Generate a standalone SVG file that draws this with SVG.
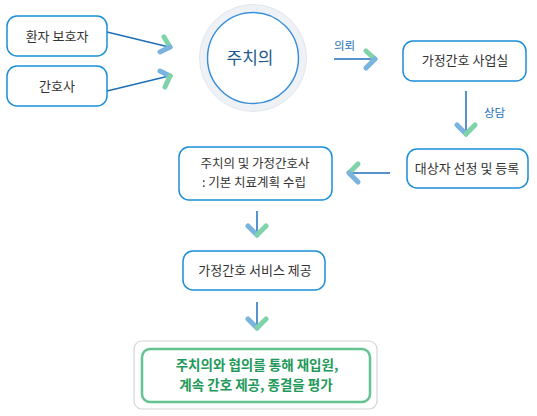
<svg xmlns="http://www.w3.org/2000/svg" width="537" height="416" viewBox="0 0 537 416">
<style>
.box{fill:#fff;stroke:#1a8fd8;stroke-width:1.5}
.t{font-family:"Noto Sans CJK KR","Noto Sans",sans-serif;font-size:13px;fill:#333;text-anchor:middle}
.t2{font-family:"Noto Sans CJK KR","Noto Sans",sans-serif;font-size:12.5px;fill:#333;text-anchor:middle}
.lbl{font-family:"Noto Sans CJK KR","Noto Sans",sans-serif;font-size:11.5px;fill:#1d6fb8}
.ln{stroke:#1d6fb8;stroke-width:1.5;fill:none}
.g{stroke:#7fd3a9;stroke-width:5;stroke-linecap:round;fill:none}
.b{stroke:#7ab3dd;stroke-width:5;stroke-linecap:round;fill:none}
.gt{font-family:"Noto Sans CJK KR","Noto Sans",sans-serif;font-size:13.5px;font-weight:bold;fill:#22995a;text-anchor:middle}
</style>
<rect width="537" height="416" fill="#fff"/>
<g id="connectors">
  <line class="ln" x1="107" y1="32" x2="169" y2="47"/>
  <line class="g" x1="164" y1="37" x2="170" y2="47"/>
  <line class="b" x1="170" y1="47" x2="160" y2="52"/>
  <line class="ln" x1="107" y1="91" x2="169" y2="76"/>
  <line class="b" x1="160" y1="71" x2="170" y2="76"/>
  <line class="g" x1="170" y1="76" x2="165" y2="87"/>
  <line class="ln" x1="334" y1="59" x2="373" y2="59"/>
  <line class="g" x1="366" y1="51" x2="375" y2="59"/>
  <line class="b" x1="375" y1="59" x2="366" y2="68"/>
  <text class="lbl" x="334" y="50">의뢰</text>
  <line class="ln" x1="466" y1="91" x2="466" y2="133"/>
  <line class="b" x1="457" y1="125" x2="466" y2="134"/>
  <line class="g" x1="466" y1="134" x2="475" y2="125"/>
  <text class="lbl" x="484" y="117">상담</text>
  <line class="ln" x1="390" y1="173" x2="350" y2="173"/>
  <line class="g" x1="358" y1="164" x2="349" y2="173"/>
  <line class="b" x1="349" y1="173" x2="358" y2="182"/>
  <line class="ln" x1="257" y1="211" x2="257" y2="234"/>
  <line class="b" x1="248" y1="226" x2="257" y2="235"/>
  <line class="g" x1="257" y1="235" x2="266" y2="226"/>
  <line class="ln" x1="257" y1="302" x2="257" y2="327"/>
  <line class="b" x1="248" y1="319" x2="257" y2="328"/>
  <line class="g" x1="257" y1="328" x2="266" y2="319"/>
</g>
<g id="n1"><rect class="box" x="7" y="16" width="100" height="40" rx="10"/><text class="t" x="57" y="41">환자 보호자</text></g>
<g id="n2"><rect class="box" x="7" y="66" width="100" height="40" rx="10"/><text class="t" x="57" y="91">간호사</text></g>
<g id="n3">
  <circle cx="253" cy="58" r="50" fill="#fff" stroke="#eef1f5" stroke-width="7"/>
  <circle cx="253" cy="58" r="53.5" fill="none" stroke="#e3e7ec" stroke-width="1"/>
  <circle cx="253" cy="58" r="45.5" fill="#fff" stroke="#3b8fd6" stroke-width="1.5"/>
  <text x="250" y="64" style="font-family:'Noto Sans CJK KR','Noto Sans',sans-serif;font-size:17px;fill:#235a8e;text-anchor:middle">주치의</text>
</g>
<g id="n4"><rect class="box" x="403" y="41" width="123" height="40" rx="10"/><text class="t" x="465" y="65">가정간호 사업실</text></g>
<g id="n5"><rect class="box" x="407" y="149" width="121" height="39" rx="10"/><text class="t" x="467" y="173">대상자 선정 및 등록</text></g>
<g id="n6"><rect class="box" x="179" y="147" width="153" height="53" rx="10"/><text class="t2" x="255" y="168">주치의 및 가정간호사</text><text class="t2" x="254" y="187">: 기본 치료계획 수립</text></g>
<g id="n7"><rect class="box" x="183" y="251" width="142" height="39" rx="10"/><text class="t" x="255" y="275">가정간호 서비스 제공</text></g>
<g id="n8">
  <rect x="134" y="341" width="243" height="68" rx="8" fill="#fff" stroke="#d4d4d4" stroke-width="1.2"/>
  <rect x="142" y="349" width="228" height="53" rx="8" fill="#fff" stroke="#64c391" stroke-width="2.5"/>
  <text class="gt" x="257" y="370">주치의와 협의를 통해 재입원,</text>
  <text class="gt" x="256" y="390">계속 간호 제공, 종결을 평가</text>
</g>
</svg>
